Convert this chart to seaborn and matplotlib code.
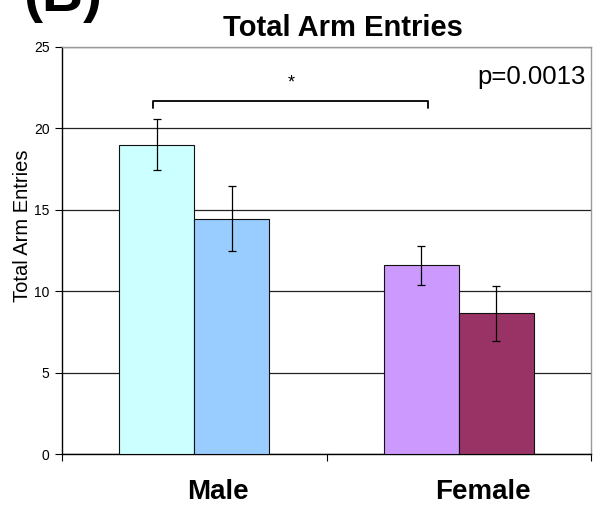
import matplotlib
matplotlib.use("Agg")
import matplotlib.pyplot as plt
import matplotlib.transforms as mtransforms
import seaborn as sns
import pandas as pd
import numpy as np

sexes = ["Male", "Male", "Female", "Female"]
conditions = ["Control", "Treated", "Control", "Treated"]
means = [19.0, 14.45, 11.6, 8.65]
errors = [1.55, 2.0, 1.2, 1.7]
bar_colors = ["#CCFFFF", "#99CCFF", "#CC99FF", "#993366"]
yticks = [0, 5, 10, 15, 20, 25]

df = pd.DataFrame({"sex": sexes, "cond": conditions, "mean": means, "err": errors})

sns.set_theme(style="white")
plt.rcParams["font.family"] = ["Liberation Sans", "DejaVu Sans"]
plt.rcParams["text.color"] = "black"
plt.rcParams["axes.labelcolor"] = "black"
plt.rcParams["xtick.color"] = "black"
plt.rcParams["ytick.color"] = "black"

fig = plt.figure(figsize=(6.03, 5.05), dpi=100)
ax = fig.add_axes([62/603, 51/505, 529/603, 407/505])

sns.barplot(data=df, x="sex", y="mean", hue="cond", order=["Male", "Female"],
            hue_order=["Control", "Treated"], palette=["#CCFFFF", "#99CCFF"],
            width=0.567, gap=0, errorbar=None, edgecolor="#111111", linewidth=0.8,
            legend=False, ax=ax, zorder=3)

# recolor bars and add error bars at the bar centres
patches = sorted([p for p in ax.patches if p.get_height() > 0], key=lambda p: p.get_x())
for p, c, m, e in zip(patches, bar_colors, means, errors):
    p.set_facecolor(c)
    xc = p.get_x() + p.get_width() / 2
    ax.errorbar(xc, m, yerr=e, fmt="none", ecolor="black", elinewidth=0.9,
                capsize=3, capthick=0.9, zorder=4)

ax.set_xlim(-0.5, 1.5)
ax.set_ylim(0, 25)
ax.set_yticks(yticks)
ax.set_yticklabels([str(t) for t in yticks], fontsize=10)
ax.yaxis.grid(True, color="#222222", linewidth=0.9, zorder=0)
ax.set_axisbelow(True)
ax.tick_params(axis="y", which="major", left=True, length=5, width=0.8, pad=4, color="black")

ax.set_xticks([0, 1])
ax.set_xticklabels(["Male", "Female"], fontsize=20, fontweight="bold")
ax.set_xticks([-0.5, 0.5, 1.5], minor=True)
ax.tick_params(axis="x", which="major", bottom=False, pad=12)
ax.tick_params(axis="x", which="minor", bottom=True, length=5, width=0.8, color="black")
shift = mtransforms.ScaledTranslation(0.24, 0, fig.dpi_scale_trans)
for lab in ax.get_xticklabels():
    lab.set_transform(lab.get_transform() + shift)
ax.set_xlabel("")
ax.set_ylabel("Total Arm Entries", fontsize=14.5)
ax.yaxis.set_label_coords(-0.057, 0.56)

for s in ["left", "bottom"]:
    ax.spines[s].set_color("black")
    ax.spines[s].set_linewidth(1.0)
for s in ["top", "right"]:
    ax.spines[s].set_color("#999999")
    ax.spines[s].set_linewidth(1.0)
    ax.spines[s].set_visible(True)

ax.set_title("Total Arm Entries", fontsize=21, fontweight="bold", pad=8, x=0.532)

# significance bracket
bx0, bx1, by, bdrop = -0.155, 0.885, 21.7, 0.45
ax.plot([bx0, bx0, bx1, bx1], [by - bdrop, by, by, by - bdrop], color="black", linewidth=1.3, zorder=5)
ax.text((bx0 + bx1) / 2, by + 0.55, "*", ha="center", va="bottom", fontsize=13)
ax.text(0.99, 0.955, "p=0.0013", transform=ax.transAxes, ha="right", va="top", fontsize=18.5)

fig.text(23/603, 1 - 11/505, "(B)", fontsize=41, fontweight="bold", ha="left", va="baseline")

fig.savefig("out.png", dpi=100)
